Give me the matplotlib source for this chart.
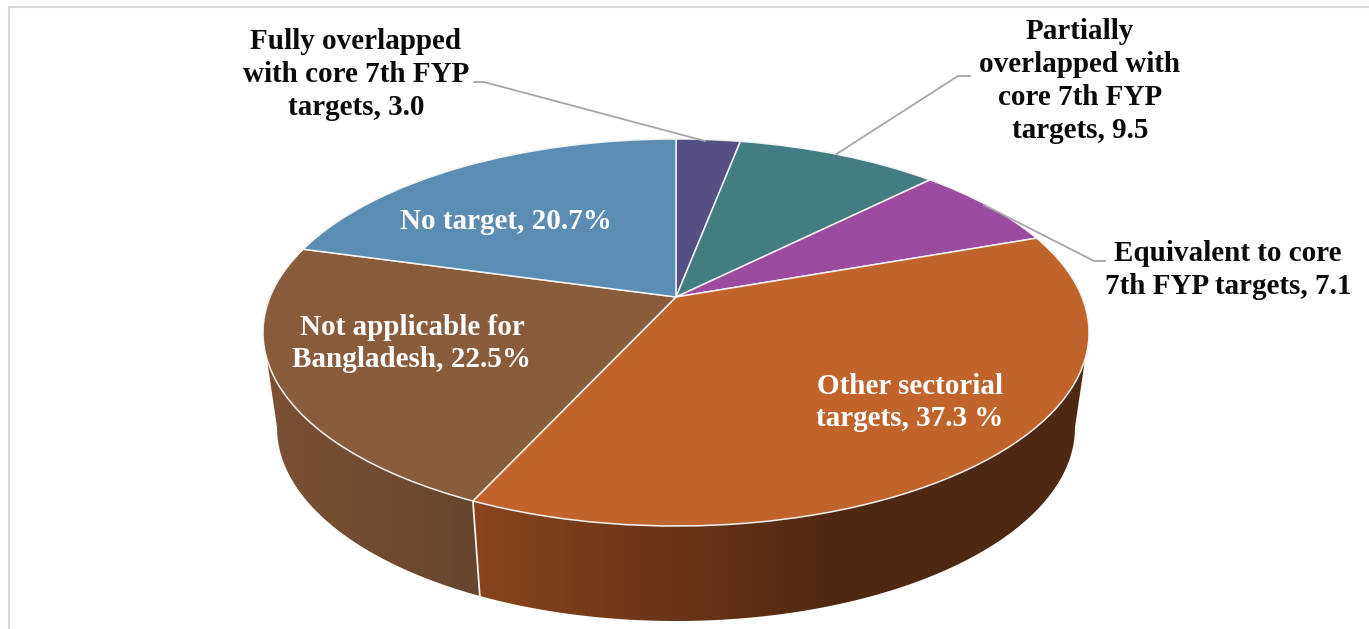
# -*- coding: utf-8 -*-
"""Hedef örtüşmesi, perspektifli 3B pasta grafik."""
import matplotlib
matplotlib.use("Agg")
import matplotlib.pyplot as plt
import numpy as np
from matplotlib.colors import LinearSegmentedColormap
from matplotlib.patches import Polygon
from matplotlib.transforms import Transform

# veriler
categories = ["Fully overlapped with core 7th FYP targets",
              "Partially overlapped with core 7th FYP targets",
              "Equivalent to core 7th FYP targets",
              "Other sectorial targets",
              "Not applicable for Bangladesh",
              "No target"]
values = [3.0, 9.5, 7.1, 37.3, 22.5, 20.7]
colors = ["#555084", "#447c84", "#9c4b9e", "#c0642b", "#895c3c", "#5b8db3"]

outside_labels = ["Fully overlapped\nwith core 7th FYP\ntargets, 3.0",
                  "Partially\noverlapped with\ncore 7th FYP\ntargets, 9.5",
                  "Equivalent to core\n7th FYP targets, 7.1"]
inside_labels = ["No target, 20.7%",
                 "Not applicable for\nBangladesh, 22.5%",
                 "Other sectorial\ntargets, 37.3 %"]

W, H = 1369, 629

# perspektif: birim daire -> piksel
cx, cy = 676, 297
a, b, k = 406, 187, 0.1834
# yan duvar
s, depth = 0.966, 95


class Perspektif(Transform):
    input_dims = 2
    output_dims = 2
    is_separable = False

    def transform_non_affine(self, xy):
        xy = np.asarray(xy, dtype=float)
        w = 1 + k * xy[:, 1]
        return np.column_stack((cx + a * xy[:, 0] / w, cy - b * xy[:, 1] / w))


def ust_yay(t1, t2):
    t = np.radians(np.linspace(t1, t2, 150))
    return Perspektif().transform_non_affine(np.column_stack((np.cos(t), np.sin(t))))


def alt_yay(t1, t2):
    p = ust_yay(t1, t2)
    return np.column_stack((cx + (p[:, 0] - cx) * s, p[:, 1] + depth))


def duvar(t1, t2, renkler, x1, x2):
    """Dilimin yan yüzeyi, x yönünde renk geçişli"""
    kose = np.vstack((ust_yay(t1, t2), alt_yay(t1, t2)[::-1]))
    cmap = LinearSegmentedColormap.from_list("d", renkler)
    grad = np.linspace(0, 1, 256).reshape(1, -1)
    im = ax.imshow(grad, cmap=cmap, extent=(x1, x2, H, 0), aspect="auto",
                   interpolation="bilinear", zorder=1)
    im.set_clip_path(Polygon(kose, closed=True, transform=ax.transData))


plt.rcParams["font.family"] = ["Liberation Serif", "DejaVu Serif"]
fig = plt.figure(figsize=(W / 100, H / 100), dpi=100, facecolor="white")
ax = fig.add_axes([0, 0, 1, 1])

wedges, _ = ax.pie(values, colors=colors, startangle=90, counterclock=False,
                   wedgeprops=dict(edgecolor="#f2f2f2", linewidth=1.1))
tr = Perspektif() + ax.transData
for w in wedges:
    w.set_transform(tr)
    w.set_zorder(3)

# dış teğet açıları
teget = np.degrees(np.arcsin(k))
duvar(-180 + teget, wedges[4].theta2,
      [(0, "#7c5136"), (1, "#66452c")], 264, 482)
duvar(wedges[3].theta1, -teget,
      [(0, "#8a441e"), (0.6, "#4f2812"), (1, "#4f2812")], 470, 1090)

# dilimler arası beyaz çizgi
ek = ust_yay(wedges[3].theta1, wedges[3].theta1)[0]
ax.plot([ek[0], cx + (ek[0] - cx) * s], [ek[1], ek[1] + depth],
        color="#f2f2f2", lw=1.3, zorder=2)

# çerçeve
ax.plot([9, 9, W], [H, 6.5, 6.5], color="#d9d9d9", lw=1.5, zorder=0)

# kılavuz çizgileri
for xs, ys in [([474, 484, 705], [82, 82, 141]),
               ([970, 958, 836.5], [76, 76, 154]),
               ([1105, 1094, 984], [261, 261, 205])]:
    ax.plot(xs, ys, color="#a6a6a6", lw=1.3, zorder=4)

yazi = dict(ha="center", va="center", fontsize=21, fontweight="bold",
            linespacing=1.28, zorder=5)
for lab, x, y in zip(outside_labels, [356, 1080, 1228], [74.5, 81, 270]):
    ax.text(x, y, lab, color="#0a0a0a", **yazi)
for lab, x, y in zip(inside_labels, [506, 412, 910], [221.5, 343.5, 402.5]):
    ax.text(x, y, lab, color="white", **yazi)

ax.set_aspect("auto")
ax.set_xlim(0, W)
ax.set_ylim(H, 0)
ax.axis("off")

fig.savefig("out.png", dpi=100, facecolor="white")
